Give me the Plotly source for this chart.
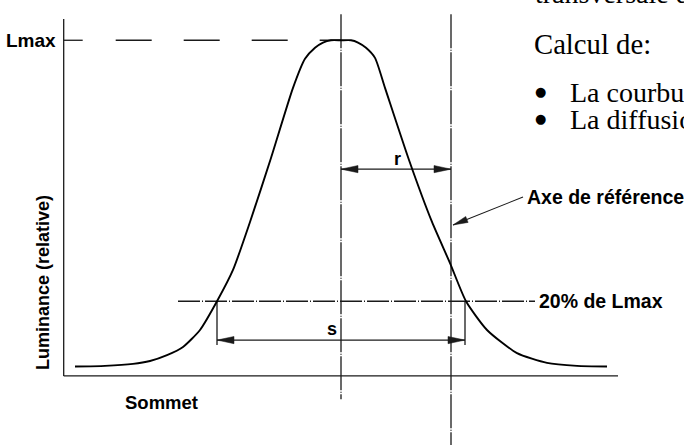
import math
import plotly.graph_objects as go

W, H = 684, 445
X_RANGE = [-341, 343]
Y_RANGE = [-0.2406, 1.1234]
PX_X = W / (X_RANGE[1] - X_RANGE[0])
PX_Y = H / (Y_RANGE[1] - Y_RANGE[0])

INK = "#1a1a1a"
SANS = "Liberation Sans, Arial, sans-serif"
SERIF = "Liberation Serif, Times New Roman, serif"

# luminance profile across the panel: position from the peak, relative luminance
position = [-266, -236, -208, -191, -174, -158, -141, -124, -108, -91, -70, -48, -36, -26, -18, -10, 0,
            10, 17, 25, 34, 44, 68, 91, 109, 125, 146, 176, 206, 236, 266]
luminance = [0.0, 0.002, 0.008, 0.017, 0.035, 0.060, 0.112, 0.200, 0.296, 0.443, 0.639, 0.854, 0.943, 0.977,
             0.993, 1.0, 1.0,
             1.0, 0.993, 0.977, 0.946, 0.854, 0.633, 0.443, 0.317, 0.200, 0.112, 0.041, 0.011, 0.002, 0.0]

lmax = 1.0
level_20 = 0.2
peak_x = 0
ref_axis_x = 110
s_left, s_right = -124, 124

# frame of the diagram (positions)
axis_x = -277.3
axis_base = -0.029
axis_top = 1.065
axis_end = 277
guide_top = 1.08
peak_guide_bottom = -0.1
level_20_from, level_20_to = -163, 194
r_level = 0.605
s_level = 0.081
s_tick_bottom = 0.066
label_arrow_tail = (182, 0.5195)
label_arrow_tip = (112, 0.4337)

fig = go.Figure()
fig.add_trace(go.Scatter(x=position, y=luminance, mode="lines",
                         line=dict(color="black", width=1.9, shape="spline", smoothing=0.6),
                         hoverinfo="skip", showlegend=False))


def seg(x0, y0, x1, y1, dash="solid", width=1.3):
    fig.add_shape(type="line", xref="x", yref="y", x0=x0, y0=y0, x1=x1, y1=y1,
                  line=dict(color=INK, width=width, dash=dash), layer="below")


def arrow_head(xt, yt, dx, dy, length=17, half=3.6):
    n = math.hypot(dx, dy)
    ux, uy = dx / n, dy / n
    bx, by = -ux * length, -uy * length
    p1 = (bx - uy * half, by + ux * half)
    p2 = (bx + uy * half, by - ux * half)
    pts = [(xt, yt)] + [(xt + px / PX_X, yt + py / PX_Y) for px, py in (p1, p2)]
    path = "M " + " L ".join(f"{x},{y}" for x, y in pts) + " Z"
    fig.add_shape(type="path", xref="x", yref="y", path=path,
                  fillcolor=INK, line=dict(color=INK, width=0.5))


# axes
seg(axis_x, axis_top, axis_x, axis_base)
seg(axis_x, axis_base, axis_end, axis_base)

# Lmax level
seg(axis_x, lmax, axis_x + 19, lmax)
seg(axis_x + 52, lmax, peak_x, lmax, dash="36px,32px")

# guide lines through the peak and the reference axis
seg(peak_x, guide_top, peak_x, peak_guide_bottom, dash="34px,1.5px,1px,1.5px")
seg(ref_axis_x, guide_top, ref_axis_x, Y_RANGE[0], dash="34px,1.5px,1px,1.5px")

# 20 % level
seg(level_20_from, level_20, level_20_to, level_20, dash="22px,2px,1px,2px")

# s : width at 20 % of Lmax
seg(s_left, level_20, s_left, s_tick_bottom)
seg(s_right, level_20, s_right, s_tick_bottom)
seg(s_left, s_level, s_right, s_level)
arrow_head(s_left, s_level, -1, 0)
arrow_head(s_right, s_level, 1, 0)

# r : peak to reference axis
seg(peak_x, r_level, ref_axis_x, r_level)
arrow_head(peak_x, r_level, -1, 0)
arrow_head(ref_axis_x, r_level, 1, 0)

# pointer to the reference axis
(tx, ty), (hx, hy) = label_arrow_tail, label_arrow_tip
seg(tx, ty, hx, hy, width=1.1)
arrow_head(hx, hy, (hx - tx) * PX_X, (hy - ty) * PX_Y, length=15, half=3.2)


def label(text, x, y, size, xanchor="center", yanchor="middle", family=SANS, angle=0):
    fig.add_annotation(x=x, y=y, xref="x", yref="y", text=text, showarrow=False,
                       xanchor=xanchor, yanchor=yanchor, textangle=angle,
                       font=dict(family=family, size=size, color="black"))


label("<b>Lmax</b>", -283, lmax, 19, xanchor="right")
label("<b>Luminance (relative)</b>", -298, 0.256, 18, angle=-90)
label("<b>Sommet</b>", -180, -0.109, 18.5)
label("<b>r</b>", 56, 0.636, 18)
label("<b>s</b>", -9, 0.115, 18)
label("<b>20% de Lmax</b>", 196, level_20, 19.5, xanchor="left")
label("<b>Axe de référence</b>", 184, 0.5195, 19.5, xanchor="left")

label("transversale de", 192, 1.09, 28, xanchor="left", yanchor="bottom", family=SERIF)
label("Calcul de:", 191, 0.99, 28.7, xanchor="left", family=SERIF)
label("●", 199, 0.844, 13, family="DejaVu Sans")
label("La courbure", 227, 0.841, 28, xanchor="left", family=SERIF)
label("●", 199, 0.761, 13, family="DejaVu Sans")
label("La diffusion", 227, 0.757, 28, xanchor="left", family=SERIF)

fig.update_layout(
    width=W, height=H,
    margin=dict(l=0, r=0, t=0, b=0, pad=0),
    paper_bgcolor="white", plot_bgcolor="white",
    xaxis=dict(range=X_RANGE, visible=False, fixedrange=True),
    yaxis=dict(range=Y_RANGE, visible=False, fixedrange=True),
    showlegend=False,
)

fig.write_html("out.html", config={"displayModeBar": False},
               post_script="document.body.style.margin = '0'; document.body.style.overflow = 'hidden';")
